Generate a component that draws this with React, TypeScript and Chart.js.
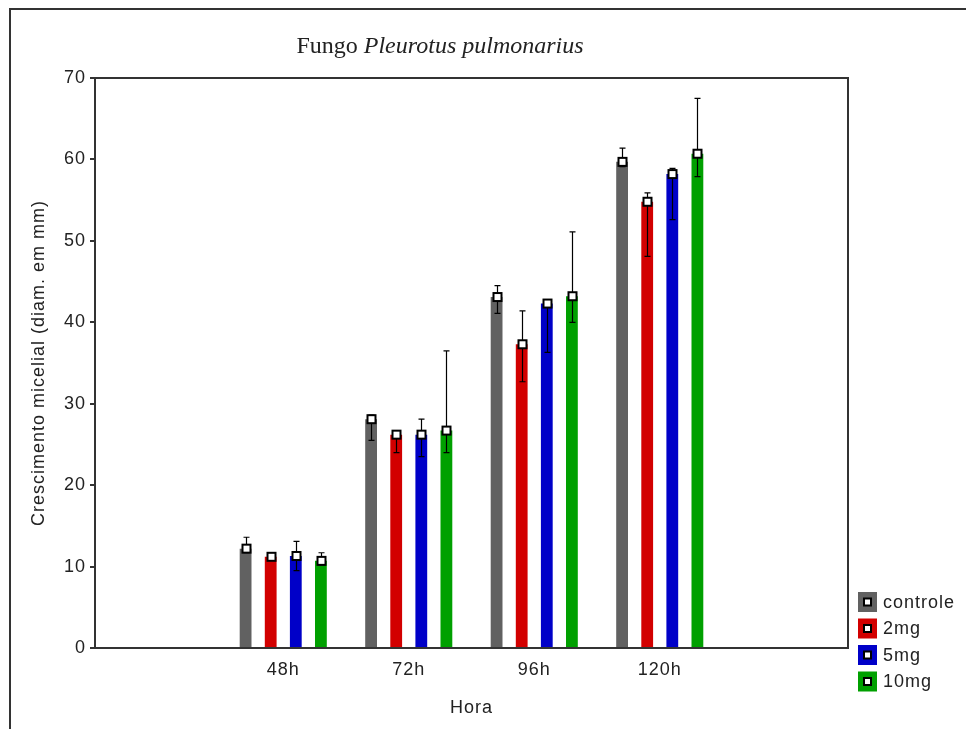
import React, { useEffect, useRef } from 'react';
import { Chart, registerables } from 'chart.js';

Chart.register(...registerables);

// ---- data ----
const hours = ['', '48h', '72h', '96h', '120h', ''];
const seriesNames = ['controle', '2mg', '5mg', '10mg'];
const seriesColors = ['#616161', '#d20000', '#0000c8', '#00a000'];

const controleMean = [null, 12.2, 28.1, 43.1, 59.7, null];
const controleHigh = [null, 13.6, 28.6, 44.5, 61.4, null];
const controleLow = [null, 11.7, 25.5, 41.1, 59.1, null];

const mg2Mean = [null, 11.2, 26.2, 37.3, 54.8, null];
const mg2High = [null, 11.5, 26.6, 41.4, 55.9, null];
const mg2Low = [null, 10.9, 24.0, 32.7, 48.1, null];

const mg5Mean = [null, 11.3, 26.2, 42.3, 58.2, null];
const mg5High = [null, 13.1, 28.1, 42.6, 58.9, null];
const mg5Low = [null, 9.5, 23.5, 36.3, 52.6, null];

const mg10Mean = [null, 10.7, 26.7, 43.2, 60.7, null];
const mg10High = [null, 11.7, 36.5, 51.1, 67.5, null];
const mg10Low = [null, 10.2, 24.0, 40.0, 57.9, null];

const yTicks = [0, 10, 20, 30, 40, 50, 60, 70];

const titleRegular = 'Fungo ';
const titleItalic = 'Pleurotus pulmonarius';
const yTitle = 'Crescimento micelial (diam. em mm)';
const xTitle = 'Hora';

const SANS = '"Liberation Sans", Arial, sans-serif';
const SERIF = '"Liberation Serif", "Times New Roman", serif';

const decorPlugin = {
  id: 'decor',
  beforeDraw(chart: any) {
    const ctx = chart.ctx;
    ctx.save();
    ctx.fillStyle = '#ffffff';
    ctx.fillRect(0, 0, chart.width, chart.height);
    ctx.restore();
    // slightly wider lettering, as in the reference
    ctx.letterSpacing = '1px';
  },
  afterDatasetsDraw(chart: any) {
    const ctx = chart.ctx;
    const yS = chart.scales.y;
    ctx.save();
    chart.data.datasets.forEach((ds: any, i: number) => {
      const meta = chart.getDatasetMeta(i);
      meta.data.forEach((bar: any, j: number) => {
        const v = ds.data[j];
        if (v == null) return;
        const x = Math.round(bar.x) + 0.5;
        const yHi = yS.getPixelForValue(ds.errHigh[j]);
        const yLo = yS.getPixelForValue(ds.errLow[j]);
        const yM = yS.getPixelForValue(v);
        ctx.strokeStyle = '#000';
        ctx.lineWidth = 1.2;
        ctx.beginPath();
        ctx.moveTo(x, yHi);
        ctx.lineTo(x, yLo);
        ctx.moveTo(x - 3, yHi);
        ctx.lineTo(x + 3, yHi);
        ctx.moveTo(x - 3, yLo);
        ctx.lineTo(x + 3, yLo);
        ctx.stroke();
        ctx.fillStyle = '#fff';
        ctx.lineWidth = 2;
        ctx.fillRect(x - 4, yM - 4, 8, 8);
        ctx.strokeRect(x - 4, yM - 4, 8, 8);
      });
    });
    ctx.restore();
  },
  afterDraw(chart: any) {
    const ctx = chart.ctx;
    const a = chart.chartArea;
    ctx.save();
    // plot box
    ctx.strokeStyle = '#333';
    ctx.lineWidth = 2;
    ctx.strokeRect(a.left, a.top, a.right - a.left, a.bottom - a.top);
    // outer frame
    ctx.beginPath();
    ctx.moveTo(10, chart.height);
    ctx.lineTo(10, 9);
    ctx.lineTo(chart.width, 9);
    ctx.stroke();
    // title
    ctx.letterSpacing = '0px';
    ctx.fillStyle = '#222';
    ctx.textBaseline = 'alphabetic';
    ctx.font = `24px ${SERIF}`;
    const w1 = ctx.measureText(titleRegular).width;
    ctx.font = `italic 24px ${SERIF}`;
    const w2 = ctx.measureText(titleItalic).width;
    const start = 440 - (w1 + w2) / 2;
    ctx.font = `24px ${SERIF}`;
    ctx.textAlign = 'left';
    ctx.fillText(titleRegular, start, 53);
    ctx.font = `italic 24px ${SERIF}`;
    ctx.fillText(titleItalic, start + w1, 53);
    // legend
    ctx.letterSpacing = '1px';
    ctx.font = `18px ${SANS}`;
    ctx.textBaseline = 'middle';
    seriesNames.forEach((name, i) => {
      const cy = 602 + i * 26.5;
      ctx.fillStyle = seriesColors[i];
      ctx.fillRect(858, cy - 10, 19, 20);
      ctx.fillStyle = '#fff';
      ctx.fillRect(864, cy - 3.5, 7, 7);
      ctx.strokeStyle = '#000';
      ctx.lineWidth = 2;
      ctx.strokeRect(864, cy - 3.5, 7, 7);
      ctx.fillStyle = '#222';
      ctx.fillText(name, 883, cy + 1);
    });
    ctx.restore();
  },
};

export default function App() {
  const ref = useRef<HTMLCanvasElement | null>(null);
  useEffect(() => {
    if (!ref.current) return;
    const mk = (i: number, mean: any[], hi: any[], lo: any[]) => ({
      label: seriesNames[i],
      data: mean,
      errHigh: hi,
      errLow: lo,
      backgroundColor: seriesColors[i],
      borderWidth: 0,
      categoryPercentage: 0.8,
      barPercentage: 0.47,
    });
    const chart = new Chart(ref.current, {
      type: 'bar',
      data: {
        labels: hours,
        datasets: [
          mk(0, controleMean, controleHigh, controleLow),
          mk(1, mg2Mean, mg2High, mg2Low),
          mk(2, mg5Mean, mg5High, mg5Low),
          mk(3, mg10Mean, mg10High, mg10Low),
        ] as any,
      },
      options: {
        responsive: false,
        animation: false,
        devicePixelRatio: 1,
        layout: { padding: { left: 0, right: 118, top: 78, bottom: 0 } },
        plugins: { legend: { display: false }, tooltip: { enabled: false }, title: { display: false } },
        scales: {
          x: {
            grid: { display: false, drawTicks: false },
            border: { display: false },
            ticks: { color: '#222', font: { family: SANS, size: 18 }, padding: 11, maxRotation: 0, autoSkip: false },
            title: { display: true, text: xTitle, color: '#222', font: { family: SANS, size: 18 }, padding: { top: 0, bottom: 10 } },
            afterFit: (s: any) => { s.height = 81; },
          },
          y: {
            min: 0,
            max: 70,
            afterBuildTicks: (s: any) => { s.ticks = yTicks.map((v) => ({ value: v })); },
            grid: { display: true, drawOnChartArea: false, tickLength: 5, color: '#333', lineWidth: 2 },
            border: { display: false },
            ticks: { color: '#222', font: { family: SANS, size: 18 }, padding: 4 },
            title: { display: true, text: yTitle, color: '#222', font: { family: SANS, size: 18 }, padding: { top: 28, bottom: 0 } },
            afterFit: (s: any) => { s.width = 95; },
          },
        },
      },
      plugins: [decorPlugin],
    });
    return () => chart.destroy();
  }, []);
  return (
    <canvas
      ref={ref}
      width={966}
      height={729}
      style={{ position: 'fixed', left: 0, top: 0, width: 966, height: 729, display: 'block' }}
    />
  );
}
